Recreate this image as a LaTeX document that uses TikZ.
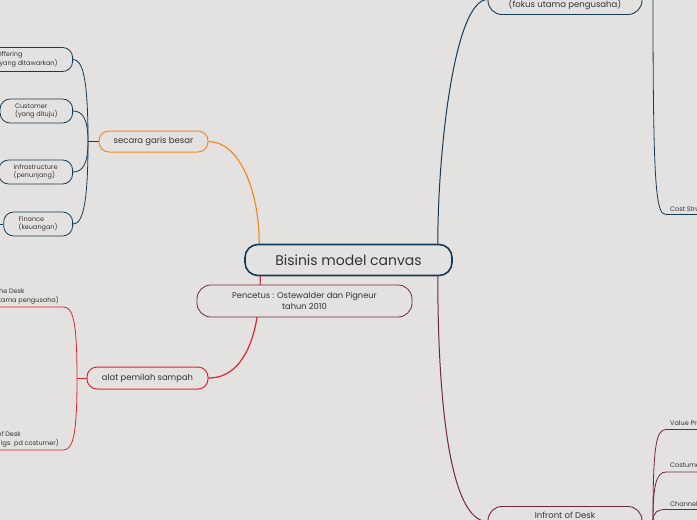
\documentclass[tikz,border=0pt]{standalone}
\usepackage{fontspec}
\setmainfont{Poppins}
\definecolor{bgcol}{RGB}{228,226,224}
\definecolor{navy}{RGB}{20,60,88}
\definecolor{orangeline}{RGB}{245,138,31}
\definecolor{redline}{RGB}{226,38,43}
\definecolor{maroon}{RGB}{112,40,58}
\definecolor{textcol}{RGB}{51,51,51}
\pgfdeclarelayer{background}
\pgfsetlayers{background,main}

\begin{document}
\begin{tikzpicture}[x=1pt, y=-1pt,
  topic/.style={draw, fill=bgcol, text=textcol, align=center, inner sep=2pt},
  subbox/.style={draw=navy, fill=bgcol, text=textcol, line width=0.8pt,
    rounded corners=10pt, align=left, minimum height=24pt, inner xsep=15pt,
    font=\fontsize{6.5}{8.5}\selectfont, anchor=east},
  leaf/.style={text=textcol, align=left, inner xsep=4pt, inner ysep=2.5pt,
    font=\fontsize{6.5}{9}\selectfont},
  link/.style={line width=0.8pt},
]

  % background
  \begin{pgfonlayer}{background}
    \fill[bgcol] (0,0) rectangle (697,520);
  \end{pgfonlayer}
  \useasboundingbox (0,0) rectangle (697,520);

  % central topic and note
  \node[topic, draw=navy, line width=1.6pt, rounded corners=13pt,
    minimum width=207pt, minimum height=31pt,
    font=\fontsize{14}{16}\selectfont] (root) at (348.5,260) {Bisinis model canvas};
  \node[topic, draw=maroon, line width=0.8pt, rounded corners=14pt,
    minimum width=215pt, minimum height=32pt,
    font=\fontsize{8.3}{11}\selectfont] (pencetus) at (304.5,301)
    {Pencetus : Ostewalder dan Pigneur\\tahun 2010};

  % main branches
  \node[topic, draw=orangeline, line width=1pt, rounded corners=10pt,
    minimum width=109pt, minimum height=21pt,
    font=\fontsize{8.5}{10}\selectfont] (garis) at (153.5,141.5) {secara garis besar};
  \node[topic, draw=redline, line width=1pt, rounded corners=10pt,
    minimum width=121pt, minimum height=22pt,
    font=\fontsize{8.4}{10}\selectfont] (alat) at (147.5,378) {alat pemilah sampah};
  \node[topic, draw=navy, line width=0.9pt, rounded corners=14pt,
    minimum width=154pt, minimum height=30pt,
    font=\fontsize{8.5}{11}\selectfont] (behind) at (565,-0.5)
    {Behind the Desk\\(fokus utama pengusaha)};
  \node[topic, draw=maroon, line width=0.9pt, rounded corners=14pt,
    minimum width=154pt, minimum height=30pt,
    font=\fontsize{8.5}{11}\selectfont] (infront) at (565,521.5)
    {Infront of Desk\\(kontak lgs. pd costumer)};

  % secara garis besar: sub topics
  \node[subbox] (offering) at (73,59.5) {Offering\\(yang ditawarkan)};
  \node[subbox] (customer) at (73,111) {Customer\\(yang dituju)};
  \node[subbox] (infra) at (73,172) {infrastructure\\(penunjang)};
  \node[subbox] (finance) at (73,224) {Finance\\(keuangan)};
  \coordinate (gjoin) at (88,141.5);
  \coordinate (fstub) at (0,224);

  % alat pemilah sampah: sub topics
  \node[leaf, anchor=south east] (behindL) at (63,307)
    {Behind the Desk\\(fokus utama pengusaha)};
  \node[leaf, anchor=south east] (infrontL) at (63,450)
    {Infront of Desk\\(kontak lgs. pd costumer)};
  \coordinate (ajoin) at (77,378);

  % desk sub topics
  \node[leaf, anchor=south west] (cost) at (666,214.5) {Cost Structure};
  \node[leaf, anchor=south west] (value) at (666,429.5) {Value Propositions};
  \node[leaf, anchor=south west] (segment) at (666,472) {Costumer Segments};
  \node[leaf, anchor=south west] (channel) at (666,509.5) {Channels};
  \coordinate (bjoin) at (653,-0.5);
  \coordinate (ijoin) at (653,521.5);

  \begin{pgfonlayer}{background}
    % from the central topic
    \draw[orangeline, line width=1.2pt] ([xshift=15pt]root.north west)
      .. controls +(0,-55) and +(30,0) .. (garis.east);
    \draw[redline, line width=1.2pt] ([xshift=16pt]root.south west)
      .. controls +(0,60) and +(35,0) .. (alat.east);
    \draw[navy, line width=1pt] ([xshift=-15pt]root.north east)
      .. controls +(0,-94) and +(-33,0) .. (behind.west);
    \draw[maroon, line width=1pt] ([xshift=-15pt]root.south east)
      .. controls +(0,124) and +(-38,0) .. (infront.west);

    % left navy group
    \draw[navy, link] (garis.west) -- (gjoin);
    \draw[navy, link] (gjoin) .. controls +(0,-62) and +(10,0) .. (offering.east);
    \draw[navy, link] (gjoin) .. controls +(0,-22) and +(10,0) .. (customer.east);
    \draw[navy, link] (gjoin) .. controls +(0,22) and +(10,0) .. (infra.east);
    \draw[navy, link] (gjoin) .. controls +(0,62) and +(10,0) .. (finance.east);
    \draw[navy, link] (finance.west) -- (fstub);

    % left red group
    \draw[redline, link] (alat.west) -- (ajoin);
    \draw[redline, link] (ajoin) .. controls +(0,-58) and +(10,0) .. (behindL.south east)
      -- (behindL.south west);
    \draw[redline, link] (ajoin) .. controls +(0,58) and +(10,0) .. (infrontL.south east)
      -- (infrontL.south west);

    % right groups
    \draw[navy, link] (behind.east) -- (bjoin);
    \draw[navy, link] (bjoin) .. controls +(0,190) and +(-10,0) .. (cost.south west)
      -- (cost.south east);
    \draw[maroon, link] (infront.east) -- (ijoin);
    \draw[maroon, link] (ijoin) .. controls +(0,-75) and +(-10,0) .. (value.south west)
      -- (value.south east);
    \draw[maroon, link] (ijoin) .. controls +(0,-35) and +(-10,0) .. (segment.south west)
      -- (segment.south east);
    \draw[maroon, link] (ijoin) .. controls +(0,-10) and +(-8,0) .. (channel.south west)
      -- (channel.south east);
  \end{pgfonlayer}

\end{tikzpicture}
\end{document}
